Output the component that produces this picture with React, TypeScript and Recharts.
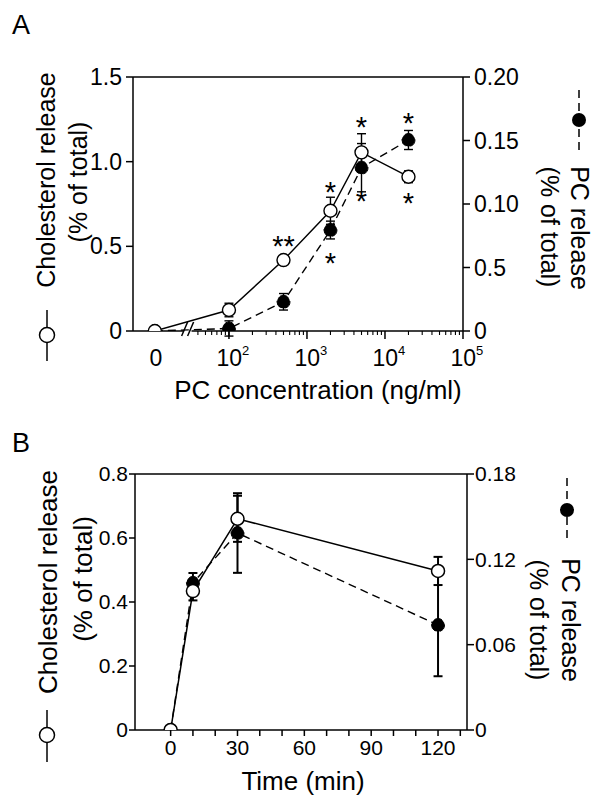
import React from 'react';
import {
  ComposedChart,
  Line,
  XAxis,
  YAxis,
  ErrorBar,
  ReferenceLine,
  ReferenceDot,
  Scatter,
} from 'recharts';

const FONT = '"Liberation Sans", Arial, Helvetica, sans-serif';

// ---------- Panel A data ----------
const concA = [0, 100, 500, 2000, 5000, 20000];
const cholA = [0, 0.124, 0.419, 0.71, 1.055, 0.911];
const cholErrA = [0, 0.04, 0.02, 0.08, 0.11, 0.035];
const pcA = [0, 0.002, 0.023, 0.0795, 0.1286, 0.1504];
const pcErrA = [0, 0.006, 0.0065, 0.007, 0.019, 0.0075];

const starConcA = [500, 2000, 2000, 5000, 5000, 20000, 20000];
const starYA = [0.543, 0.862, 0.443, 1.246, 0.809, 1.264, 0.797];
const starTextA = ['**', '*', '*', '*', '*', '*', '*'];

const xMajorExpA = [2, 3, 4, 5];
const xMinorDecadesA = [1, 2, 3, 4];
const yLeftTicksA = [0, 0.5, 1.0, 1.5];
const yLeftLabelsA = ['0', '0.5', '1.0', '1.5'];
const yRightTicksA = [0, 0.05, 0.1, 0.15, 0.2];
const yRightLabelsA = ['0', '0.5', '0.10', '0.15', '0.20'];

// ---------- Panel B data ----------
const timeB = [0, 10, 30, 120];
const cholB = [0, 0.434, 0.66, 0.497];
const cholErrB = [0, 0.029, 0.072, 0.044];
const pcB = [0, 0.1034, 0.1385, 0.0738];
const pcErrB = [0, 0.007, 0.028, 0.036];

const xTicksB = [0, 10, 20, 30, 40, 50, 60, 70, 80, 90, 100, 110, 120, 130];
const xLabelsB = [0, 30, 60, 90, 120];
const yLeftTicksB = [0, 0.2, 0.4, 0.6, 0.8];
const yLeftLabelsB = ['0', '0.2', '0.4', '0.6', '0.8'];
const yRightTicksB = [0, 0.06, 0.12, 0.18];
const yRightLabelsB = ['0', '0.06', '0.12', '0.18'];

// ---------- broken log axis transform (panel A) ----------
const ZERO_POS = 1.05;
const BREAK_POS = 1.47;
const BREAK_LEFT = 1.42;
const BREAK_RIGHT = 1.52;
const X_MIN_A = 0.77;
const X_MAX_A = 5;
const toPos = (c: number) => (c === 0 ? ZERO_POS : Math.log10(c));

const dataA = concA.map((c, i) => ({
  t: toPos(c),
  chol: cholA[i],
  cholErr: cholErrA[i],
  pc: pcA[i],
  pcErr: pcErrA[i],
}));
const starDataA = starConcA.map((c, i) => ({ t: toPos(c), sy: starYA[i], label: starTextA[i] }));

const majorPosA = xMajorExpA.map((e) => e);
const minorPosA: number[] = [];
xMinorDecadesA.forEach((d) => {
  for (let k = 2; k <= 9; k++) {
    const p = Math.log10(k) + d;
    if (p > BREAK_RIGHT && p < X_MAX_A) minorPosA.push(p);
  }
});
const xTicksA = [ZERO_POS, ...minorPosA, ...majorPosA].sort((a, b) => a - b);

const dataB = timeB.map((t, i) => ({
  t,
  chol: cholB[i],
  cholErr: cholErrB[i],
  pc: pcB[i],
  pcErr: pcErrB[i],
}));

const lookup = (ticks: number[], labels: string[]) => (v: number) => {
  const i = ticks.findIndex((t) => Math.abs(t - v) < 1e-9);
  return i >= 0 ? labels[i] : '';
};

const SW = 1.5;

const XTickA = (props: any) => {
  const { x, y, payload } = props;
  const v = payload.value as number;
  if (Math.abs(v - ZERO_POS) < 1e-9) {
    return (
      <text x={x + 1} y={y + 35} textAnchor="middle" fontSize={23} fontFamily={FONT} fill="#000">
        0
      </text>
    );
  }
  const mi = majorPosA.findIndex((m) => Math.abs(m - v) < 1e-9);
  if (mi >= 0) {
    return (
      <g>
        <line x1={x} y1={y} x2={x} y2={y + 8} stroke="#000" strokeWidth={SW} />
        <text x={x - 12.5} y={y + 35} textAnchor="start" fontSize={23} fontFamily={FONT} fill="#000">
          <tspan>10</tspan>
          <tspan dy={-11} fontSize={13}>{xMajorExpA[mi]}</tspan>
        </text>
      </g>
    );
  }
  return <line x1={x} y1={y} x2={x} y2={y + 4} stroke="#000" strokeWidth={1.1} />;
};

const StarShape = (props: any) => {
  const { cx, cy, payload } = props;
  const fs = 29;
  return (
    <text x={cx} y={cy + 0.57 * fs} textAnchor="middle" fontSize={fs} fontFamily={FONT} fill="#000">
      {payload.label}
    </text>
  );
};

const BreakMark = (props: any) => {
  const { cx, cy } = props;
  return (
    <g>
      <line x1={cx - 6} y1={cy + 5} x2={cx} y2={cy - 9} stroke="#000" strokeWidth={SW} />
      <line x1={cx} y1={cy + 5} x2={cx + 6} y2={cy - 9} stroke="#000" strokeWidth={SW} />
    </g>
  );
};

const tickStyle = (fs: number) => ({ fill: '#000', fontSize: fs, fontFamily: FONT });

const ChartA = () => (
  <ComposedChart width={600} height={400} data={dataA} margin={{ top: 77, right: 0, bottom: 0, left: 0 }}>
    <XAxis
      type="number"
      dataKey="t"
      domain={[X_MIN_A, X_MAX_A]}
      allowDataOverflow
      ticks={xTicksA}
      interval={0}
      tick={<XTickA />}
      tickLine={false}
      axisLine={false}
      tickSize={0}
      tickMargin={0}
      height={69}
    />
    <YAxis
      yAxisId="left"
      orientation="left"
      width={133}
      domain={[0, 1.5]}
      allowDataOverflow
      ticks={yLeftTicksA}
      interval={0}
      tickFormatter={lookup(yLeftTicksA, yLeftLabelsA)}
      tick={tickStyle(23)}
      tickLine={{ stroke: '#000', strokeWidth: SW }}
      axisLine={{ stroke: '#000', strokeWidth: SW }}
      tickSize={7}
      tickMargin={4}
    />
    <YAxis
      yAxisId="right"
      orientation="right"
      width={137}
      domain={[0, 0.2]}
      allowDataOverflow
      ticks={yRightTicksA}
      interval={0}
      tickFormatter={lookup(yRightTicksA, yRightLabelsA)}
      tick={tickStyle(23)}
      tickLine={{ stroke: '#000', strokeWidth: SW }}
      axisLine={{ stroke: '#000', strokeWidth: SW }}
      tickSize={7}
      tickMargin={4}
    />
    <ReferenceLine yAxisId="left" y={1.5} stroke="#000" strokeWidth={SW} ifOverflow="visible" />
    <ReferenceLine
      yAxisId="left"
      segment={[{ x: X_MIN_A, y: 0 }, { x: BREAK_LEFT, y: 0 }]}
      stroke="#000"
      strokeWidth={SW}
      ifOverflow="visible"
    />
    <ReferenceLine
      yAxisId="left"
      segment={[{ x: BREAK_RIGHT, y: 0 }, { x: X_MAX_A, y: 0 }]}
      stroke="#000"
      strokeWidth={SW}
      ifOverflow="visible"
    />
    <ReferenceDot yAxisId="left" x={BREAK_POS} y={0} shape={<BreakMark />} ifOverflow="visible" />
    <Line
      yAxisId="right"
      dataKey="pc"
      stroke="#000"
      strokeWidth={1.4}
      strokeDasharray="8 5"
      dot={{ r: 6.5, fill: '#000', stroke: '#000', strokeWidth: 1 }}
      activeDot={false}
      isAnimationActive={false}
    >
      <ErrorBar dataKey="pcErr" width={4.5} stroke="#000" strokeWidth={1.4} direction="y" />
    </Line>
    <Line
      yAxisId="left"
      dataKey="chol"
      stroke="#000"
      strokeWidth={1.4}
      dot={{ r: 6.5, fill: '#fff', stroke: '#000', strokeWidth: 1.4 }}
      activeDot={false}
      isAnimationActive={false}
    >
      <ErrorBar dataKey="cholErr" width={4.5} stroke="#000" strokeWidth={1.4} direction="y" />
    </Line>
    <Scatter yAxisId="left" data={starDataA} dataKey="sy" shape={<StarShape />} isAnimationActive={false} />
  </ComposedChart>
);

const ChartB = () => (
  <ComposedChart width={600} height={405} data={dataB} margin={{ top: 74, right: 0, bottom: 0, left: 0 }}>
    <XAxis
      type="number"
      dataKey="t"
      domain={[-16, 133]}
      allowDataOverflow
      ticks={xTicksB}
      interval={0}
      tickFormatter={(v: number) => (xLabelsB.includes(v) ? String(v) : '')}
      tick={tickStyle(21)}
      tickLine={{ stroke: '#000', strokeWidth: SW }}
      axisLine={{ stroke: '#000', strokeWidth: SW }}
      tickSize={6}
      tickMargin={4}
      height={75}
    />
    <YAxis
      yAxisId="left"
      orientation="left"
      width={135}
      domain={[0, 0.8]}
      allowDataOverflow
      ticks={yLeftTicksB}
      interval={0}
      tickFormatter={lookup(yLeftTicksB, yLeftLabelsB)}
      tick={tickStyle(21)}
      tickLine={{ stroke: '#000', strokeWidth: SW }}
      axisLine={{ stroke: '#000', strokeWidth: SW }}
      tickSize={6}
      tickMargin={1}
    />
    <YAxis
      yAxisId="right"
      orientation="right"
      width={133}
      domain={[0, 0.18]}
      allowDataOverflow
      ticks={yRightTicksB}
      interval={0}
      tickFormatter={lookup(yRightTicksB, yRightLabelsB)}
      tick={tickStyle(21)}
      tickLine={{ stroke: '#000', strokeWidth: SW }}
      axisLine={{ stroke: '#000', strokeWidth: SW }}
      tickSize={7}
      tickMargin={1}
    />
    <ReferenceLine yAxisId="left" y={0.8} stroke="#000" strokeWidth={SW} ifOverflow="visible" />
    <Line
      yAxisId="right"
      dataKey="pc"
      stroke="#000"
      strokeWidth={1.4}
      strokeDasharray="8 5"
      dot={{ r: 6.5, fill: '#000', stroke: '#000', strokeWidth: 1 }}
      activeDot={false}
      isAnimationActive={false}
    >
      <ErrorBar dataKey="pcErr" width={4.5} stroke="#000" strokeWidth={2} direction="y" />
    </Line>
    <Line
      yAxisId="left"
      dataKey="chol"
      stroke="#000"
      strokeWidth={1.5}
      dot={{ r: 6.5, fill: '#fff', stroke: '#000', strokeWidth: 1.5 }}
      activeDot={false}
      isAnimationActive={false}
    >
      <ErrorBar dataKey="cholErr" width={4.5} stroke="#000" strokeWidth={2} direction="y" />
    </Line>
  </ComposedChart>
);

const Overlay = () => (
  <svg
    width={600}
    height={805}
    style={{ position: 'absolute', left: 0, top: 0, pointerEvents: 'none' }}
    fontFamily={FONT}
    fill="#000"
  >
    <text x={12} y={34} fontSize={27}>A</text>
    <text x={12} y={452} fontSize={27}>B</text>

    <text x={318} y={399} fontSize={26} textAnchor="middle">PC concentration (ng/ml)</text>
    <text x={303} y={790} fontSize={26} textAnchor="middle">Time (min)</text>

    {/* Panel A left label */}
    <text x={55} y={180} fontSize={25} textAnchor="middle" transform="rotate(-90 55 180)">Cholesterol release</text>
    <text x={87} y={182} fontSize={25} textAnchor="middle" transform="rotate(-90 87 182)">(% of total)</text>
    <line x1={47} y1={310} x2={47} y2={361} stroke="#000" strokeWidth={SW} />
    <circle cx={47} cy={335} r={7.5} fill="#fff" stroke="#000" strokeWidth={SW} />

    {/* Panel A right label */}
    <text x={571} y={228} fontSize={25} textAnchor="middle" transform="rotate(90 571 228)">PC release</text>
    <text x={541} y={227} fontSize={25} textAnchor="middle" transform="rotate(90 541 227)">(% of total)</text>
    <line x1={579} y1={90} x2={579} y2={152} stroke="#000" strokeWidth={SW} strokeDasharray="8 5" />
    <circle cx={579} cy={120} r={7} fill="#000" />

    {/* Panel B left label */}
    <text x={57} y={582} fontSize={26} textAnchor="middle" transform="rotate(-90 57 582)">Cholesterol release</text>
    <text x={92} y={579} fontSize={26} textAnchor="middle" transform="rotate(-90 92 579)">(% of total)</text>
    <line x1={47} y1={710} x2={47} y2={762} stroke="#000" strokeWidth={SW} />
    <circle cx={47} cy={735} r={7.5} fill="#fff" stroke="#000" strokeWidth={SW} />

    {/* Panel B right label */}
    <text x={562} y={620} fontSize={25} textAnchor="middle" transform="rotate(90 562 620)">PC release</text>
    <text x={530} y={620} fontSize={25} textAnchor="middle" transform="rotate(90 530 620)">(% of total)</text>
    <line x1={567} y1={478} x2={567} y2={542} stroke="#000" strokeWidth={SW} strokeDasharray="8 5" />
    <circle cx={567} cy={510} r={7} fill="#000" />
  </svg>
);

export default function App() {
  return (
    <div style={{ position: 'absolute', left: 0, top: 0, width: 600, height: 805, background: '#fff' }}>
      <div style={{ position: 'absolute', left: 0, top: 0 }}>
        <ChartA />
      </div>
      <div style={{ position: 'absolute', left: 0, top: 400 }}>
        <ChartB />
      </div>
      <Overlay />
    </div>
  );
}
